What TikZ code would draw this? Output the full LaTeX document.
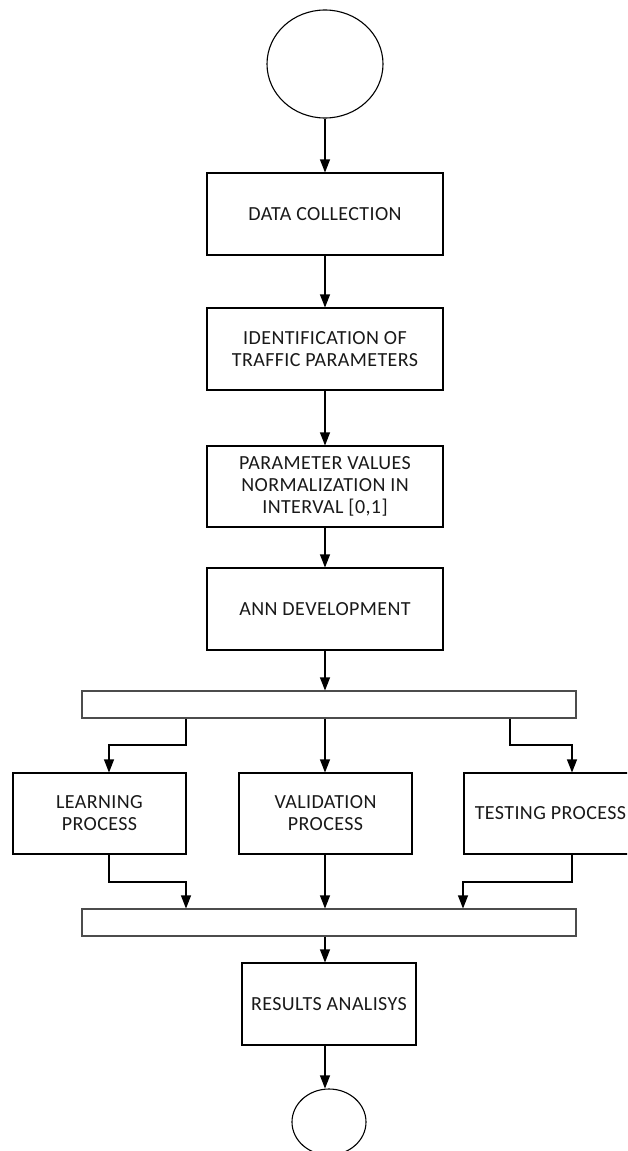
\documentclass[tikz,border=0pt]{standalone}
\usepackage{fontspec}
\setmainfont{Carlito}
\usetikzlibrary{arrows.meta,shapes.geometric}

\tikzset{
  box/.style={draw=black, line width=1.1pt, rectangle, inner sep=0pt, align=center,
              font=\fontsize{20}{22}\selectfont\addfontfeatures{LetterSpace=2}, text=black!90},
  bar/.style={draw=black!70, line width=1.1pt, rectangle, inner sep=0pt,
              minimum width=494pt, minimum height=27pt},
  term/.style={draw=black, line width=1.1pt, ellipse, inner sep=0pt},
  arr/.style={line width=1.1pt, -{Triangle[length=13pt,width=10pt]}},
  link/.style={line width=1.1pt}
}

\begin{document}
\begin{tikzpicture}[x=1pt, y=-1pt]
\useasboundingbox (0,0) rectangle (627,1151);
\clip (0,0) rectangle (627,1151);

% terminals
\node[term, minimum width=116pt, minimum height=108pt] (start) at (325,64) {};
\node[term, minimum width=74pt, minimum height=66pt] (stop) at (329,1122) {};

% main column
\node[box, minimum width=236pt, minimum height=82pt] (data) at (325,214) {DATA COLLECTION};
\node[box, minimum width=236pt, minimum height=82pt] (ident) at (325,349) {IDENTIFICATION OF\\TRAFFIC PARAMETERS};
\node[box, minimum width=236pt, minimum height=81pt] (norm) at (325,486.5) {PARAMETER VALUES\\NORMALIZATION IN\\INTERVAL [0,1]};
\node[box, minimum width=236pt, minimum height=82pt] (ann) at (325,609) {ANN DEVELOPMENT};

% split / merge bars
\node[bar] (split) at (329,704.5) {};
\node[bar] (merge) at (329,922.5) {};

% three processes
\node[box, minimum width=173pt, minimum height=81pt] (learn) at (99.5,813.5) {LEARNING\\PROCESS};
\node[box, minimum width=173pt, minimum height=81pt] (valid) at (325.5,813.5) {VALIDATION\\PROCESS};
\node[box, minimum width=173pt, minimum height=81pt] (test) at (550.5,813.5) {TESTING PROCESS};

\node[box, minimum width=174pt, minimum height=82pt] (res) at (329,1004) {RESULTS ANALISYS};

% elbow points of the branch connectors
\coordinate (sl1) at (186,745);
\coordinate (sl2) at (109,745);
\coordinate (sr1) at (510,745);
\coordinate (sr2) at (572,745);
\coordinate (ml1) at (109,882);
\coordinate (ml2) at (186,882);
\coordinate (mr1) at (572,882);
\coordinate (mr2) at (463,882);

% straight connectors
\draw[arr] (start.south -| 325,0) -- (data.north -| 325,0);
\draw[arr] (data.south -| 325,0) -- (ident.north -| 325,0);
\draw[arr] (ident.south -| 325,0) -- (norm.north -| 325,0);
\draw[arr] (norm.south -| 325,0) -- (ann.north -| 325,0);
\draw[arr] (ann.south -| 325,0) -- (split.north -| 325,0);
\draw[arr] (split.south -| 325,0) -- (valid.north -| 325,0);
\draw[arr] (valid.south -| 325,0) -- (merge.north -| 325,0);
\draw[arr] (merge.south -| 325,0) -- (res.north -| 325,0);
\draw[arr] (res.south -| 325,0) -- (stop.north -| 325,0);

% branch connectors
\draw[arr] (split.south -| sl1) -- (sl1) -- (sl2) -- (learn.north -| sl2);
\draw[arr] (split.south -| sr1) -- (sr1) -- (sr2) -- (test.north -| sr2);
\draw[arr] (learn.south -| ml1) -- (ml1) -- (ml2) -- (merge.north -| ml2);
\draw[arr] (test.south -| mr1) -- (mr1) -- (mr2) -- (merge.north -| mr2);
\end{tikzpicture}
\end{document}
